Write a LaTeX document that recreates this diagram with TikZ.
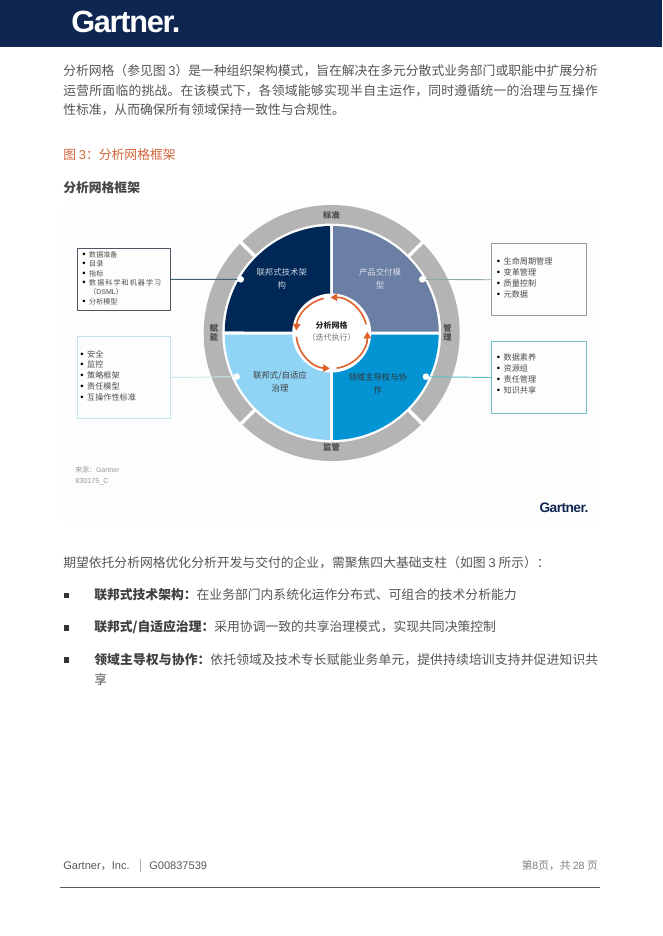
\documentclass[tikz,border=0pt]{standalone}
\usepackage{fontspec}
\setmainfont{Noto Sans CJK SC}
\newfontfamily\lat{Liberation Sans}
\newfontfamily\logof[LetterSpace=-4]{Liberation Sans}
\usetikzlibrary{arrows.meta}
\XeTeXlinebreaklocale "zh"
\XeTeXlinebreakskip=0pt plus 2pt
\definecolor{navy}{HTML}{0E2650}
\definecolor{qdark}{HTML}{002856}
\definecolor{qslate}{HTML}{6A7FA3}
\definecolor{qlight}{HTML}{8FD4F5}
\definecolor{qblue}{HTML}{0594D3}
\definecolor{ringc}{HTML}{B4B4B4}
\definecolor{bodyc}{HTML}{555555}
\definecolor{orangec}{HTML}{E0602A}
\definecolor{headc}{HTML}{D4653A}
\definecolor{boxa}{HTML}{4A5662}
\definecolor{boxb}{HTML}{C2E4EC}
\definecolor{boxc}{HTML}{8E9CA3}
\definecolor{boxd}{HTML}{74C2C8}
\definecolor{lnka}{HTML}{3F6475}
\definecolor{lnkb}{HTML}{CDE9EF}
\definecolor{lnkc}{HTML}{8FA5A8}
\definecolor{lnkd}{HTML}{55C0C8}
\tikzset{
  x=.75pt,y=-.75pt,
  bodytext/.style={anchor=north west,inner sep=0pt,text=bodyc,font=\fontsize{9.6pt}{14.9pt}\selectfont,align=justify,text width=#1},
  single/.style={anchor=west,inner sep=0pt,text=bodyc,font=\fontsize{9.6pt}{12pt}\selectfont},
  infobox/.style={draw=#1,line width=.7pt,anchor=north west,inner sep=0pt},
  boxtext/.style={anchor=north west,inner sep=0pt,text=black!70,align=left},
  dot/.style={circle,fill=white,draw=none,minimum size=5pt,inner sep=0pt},
  leader/.style={line width=.7pt,draw=#1},
  quad/.style={inner sep=0pt,align=center,font=\fontsize{6.3pt}{9.8pt}\selectfont},
  ringlab/.style={inner sep=0pt,align=center,font=\bfseries\fontsize{6.2pt}{6.6pt}\selectfont,text=black!70},
  cyc/.style={draw=orangec,line width=1.2pt,-{Triangle[length=5pt,width=5.5pt]}},
  sqb/.style={fill=black!80,minimum size=4.2pt,inner sep=0pt},
}
\newcommand{\bl}{\makebox[5.2pt][l]{\textcolor{black}{\lat\fontsize{7pt}{7pt}\selectfont\textbullet}}}
\begin{document}
\begin{tikzpicture}
\useasboundingbox (0,0) rectangle (662,936);
\fill[white] (0,0) rectangle (662,936);
% header
\fill[navy] (0,0) rectangle (662,47);
\node[anchor=west,inner sep=0pt,text=white] (logo) at (71,21.5) {\logof\bfseries\fontsize{23pt}{24pt}\selectfont Gartner.};
% intro
\node[bodytext=401pt] (intro) at (63,64) {分析网格（参见图 {\lat 3}）是一种组织架构模式，旨在解决在多元分散式业务部门或职能中扩展分析\linebreak 运营所面临的挑战。在该模式下，各领域能够实现半自主运作，同时遵循统一的治理与互操作\linebreak 性标准，从而确保所有领域保持一致性与合规性。};
\node[single,text=headc] (figcap) at (63,155) {图 {\lat 3}：分析网格框架};
\node[single,text=black!72,font=\bfseries\fontsize{9.6pt}{12pt}\selectfont] (figtitle) at (63,188) {分析网格框架};
% figure background
\fill[black!0.8] (63,205) rectangle (600,522);
% ring + quadrants
\begin{scope}[shift={(331.7,333)},y=.75pt]
  \fill[ringc,even odd rule] (0,0) circle[radius=128] (0,0) circle[radius=109.5];
  \foreach \a in {45,135,225,315}
    \draw[white,line width=2.6pt] (\a:105) -- (\a:130);
  \fill[qdark]  (-1.5,1.5) -- (-1.5,107) arc[start angle=90.8,end angle=179.2,radius=107] -- cycle;
  \fill[qslate] (1.5,1.5) -- (107,1.5) arc[start angle=0.8,end angle=89.2,radius=107] -- cycle;
  \fill[qlight] (-1.5,-1.5) -- (-107,-1.5) arc[start angle=180.8,end angle=269.2,radius=107] -- cycle;
  \fill[qblue]  (1.5,-1.5) -- (1.5,-107) arc[start angle=270.8,end angle=359.2,radius=107] -- cycle;
  \fill[white] (0,0) circle[radius=39.5];
  % cycle arrows (counter-clockwise)
  \draw[cyc] (14:35.5) arc[start angle=14,end angle=92,radius=35.5];
  \draw[cyc] (103:35.5) arc[start angle=103,end angle=176,radius=35.5];
  \draw[cyc] (186:35.5) arc[start angle=186,end angle=267,radius=35.5];
  \draw[cyc] (278:35.5) arc[start angle=278,end angle=362,radius=35.5];
\end{scope}
% ring labels
\node[ringlab] (rtop) at (331.5,215.5) {标准};
\node[ringlab] (rbot) at (331.5,447) {监管};
\node[ringlab] (rleft) at (214,333) {赋\\能};
\node[ringlab] (rright) at (447.5,333) {管\\理};
% quadrant labels
\node[quad,text=white!78!qdark] (q1) at (281.7,278.5) {联邦式技术架\\构};
\node[quad,text=white!75!qslate] (q2) at (380,278.5) {产品交付模\\型};
\node[quad,text=black!75] (q3) at (280,381.5) {联邦式/自适应\\治理};
\node[quad,text=black!80] (q4) at (377.7,384) {领域主导权与协\\作};
% centre
\node[inner sep=0pt,font=\bfseries\fontsize{6pt}{7pt}\selectfont,text=black!85] (c1) at (331.5,325) {分析网格};
\node[inner sep=0pt,font=\fontsize{6pt}{7pt}\selectfont,text=black!55] (c2) at (331.5,337) {（迭代执行）};
% dots
\node[dot] (d1) at (240.7,279.3) {};
\node[dot] (d2) at (422.3,279.3) {};
\node[dot] (d3) at (236.7,376.7) {};
\node[dot] (d4) at (426,376.7) {};
% boxes
\node[infobox=boxa,minimum width=70pt,minimum height=46pt] (b1) at (76.7,248.3) {};
\node[infobox=boxb,minimum width=70pt,minimum height=62pt] (b2) at (76.7,335.7) {};
\node[infobox=boxc,minimum width=71pt,minimum height=54pt] (b3) at (491.3,243.3) {};
\node[infobox=boxd,minimum width=71pt,minimum height=54.5pt] (b4) at (491.3,340.7) {};
\draw[leader=lnka] (b1.east) -- (d1);
\draw[leader=lnkb] (b2.east) -- (d3);
\draw[leader=lnkc] (b3.west) -- (d2);
\draw[leader=lnkd] (b4.west) -- (d4);
% box texts
\node[boxtext,font=\fontsize{5.3pt}{7.05pt}\selectfont] (t1) at (82,251) {\bl 数据准备\\\bl 目录\\\bl 指标\\\bl\makebox[54pt][s]{数\hfill 据\hfill 科\hfill 学\hfill 和\hfill 机\hfill 器\hfill 学\hfill 习}\\\hspace{5.2pt}（{\lat DSML}）\\\bl 分析模型};
\node[boxtext,font=\fontsize{6.1pt}{8.05pt}\selectfont] (t2) at (80,350) {\bl 安全\\\bl 监控\\\bl 策略框架\\\bl 责任模型\\\bl 互操作性标准};
\node[boxtext,font=\fontsize{6.1pt}{8.3pt}\selectfont] (t3) at (496.5,257) {\bl 生命周期管理\\\bl 变革管理\\\bl 质量控制\\\bl 元数据};
\node[boxtext,font=\fontsize{6.1pt}{8.1pt}\selectfont] (t4) at (496.5,353.5) {\bl 数据素养\\\bl 资源组\\\bl 责任管理\\\bl 知识共享};
% source
\node[anchor=west,inner sep=0pt,text=black!40,font=\fontsize{5.2pt}{6pt}\selectfont] (src) at (75,469.5) {来源：{\lat Gartner}};
\node[anchor=west,inner sep=0pt,text=black!40,font=\lat\fontsize{5.4pt}{6pt}\selectfont] (num) at (75,482) {830175\_C};
\node[anchor=center,inner sep=0pt,text=navy,font=\logof\bfseries\fontsize{10.3pt}{11pt}\selectfont] (logo2) at (564,508) {Gartner.};
% lower text
\node[single] (lead) at (63,563) {期望依托分析网格优化分析开发与交付的企业，需聚焦四大基础支柱（如图 {\lat 3} 所示）：};
\node[sqb] (s1) at (66.5,595.5) {};
\node[sqb] (s2) at (66.5,627.7) {};
\node[sqb] (s3) at (66.5,659.7) {};
\node[single] (i1) at (94,594.5) {\textcolor{black!75}{\bfseries 联邦式技术架构：}在业务部门内系统化运作分布式、可组合的技术分析能力};
\node[single] (i2) at (94,627.5) {\textcolor{black!75}{\bfseries 联邦式/自适应治理：}采用协调一致的共享治理模式，实现共同决策控制};
\node[bodytext=378pt] (i3) at (94,653) {\textcolor{black!75}{\bfseries 领域主导权与协作：}依托领域及技术专长赋能业务单元，提供持续培训支持并促进知识共\linebreak 享};
% footer
\node[anchor=west,inner sep=0pt,text=black!65,font=\fontsize{8.3pt}{10pt}\selectfont] (f1) at (63,866) {\lat Gartner{\fontspec{Noto Sans CJK SC}，}Inc.};
\node[anchor=west,inner sep=0pt,text=black!65,font=\lat\fontsize{8.3pt}{10pt}\selectfont] (f2) at (149,866) {G00837539};
\coordinate (sepa) at (140.5,859);
\coordinate (sepb) at (140.5,872);
\draw[black!30,line width=.5pt] (sepa) -- (sepb);
\node[anchor=east,inner sep=0pt,text=black!50,font=\fontsize{8pt}{10pt}\selectfont] (f3) at (598,866) {第{\lat 8}页，共 {\lat 28} 页};
\coordinate (la) at (60,887);
\coordinate (lb) at (600,887);
\draw[black!65,line width=.75pt] (la) -- (lb);
\end{tikzpicture}
\end{document}
